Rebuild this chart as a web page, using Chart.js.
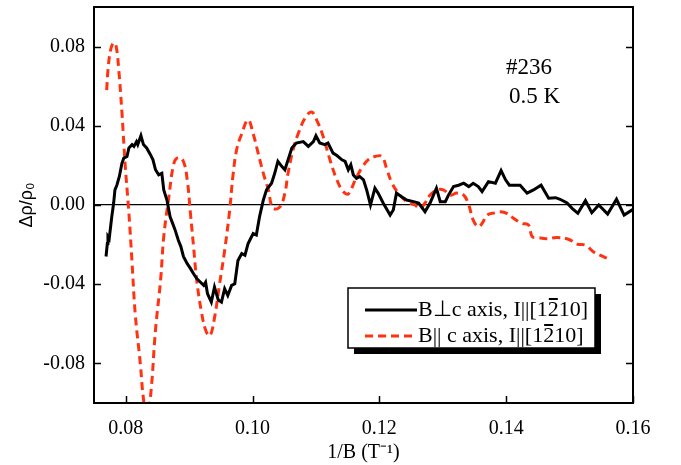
<!DOCTYPE html>
<html>
<head>
<meta charset="utf-8">
<script src="https://cdn.jsdelivr.net/npm/chart.js@4"></script>
<style>
  body { margin: 0; background: #fff; }
  #wrap { width: 681px; height: 465px; }
</style>
</head>
<body>
<div id="wrap"><canvas id="chart" width="681" height="465"></canvas></div>
<script>
// B perpendicular to c axis (black, solid)
const perpX = [0.0769, 0.0771, 0.0772, 0.0774, 0.0778, 0.0781, 0.0783, 0.0786, 0.0790, 0.0794,
  0.0797, 0.0802, 0.0805, 0.0810, 0.0813, 0.0817, 0.0819, 0.0824, 0.0828, 0.0833,
  0.0839, 0.0843, 0.0847, 0.0852, 0.0857, 0.0860, 0.0865, 0.0870, 0.0874, 0.0878,
  0.0883, 0.0887, 0.0891, 0.0897, 0.0902, 0.0907, 0.0912, 0.0918, 0.0923, 0.0926,
  0.0929, 0.0935, 0.0940, 0.0946, 0.0951, 0.0956, 0.0961, 0.0967, 0.0972, 0.0977,
  0.0983, 0.0988, 0.0993, 0.1001, 0.1006, 0.1011, 0.1017, 0.1022, 0.1030, 0.1035,
  0.1040, 0.1046, 0.1051, 0.1056, 0.1062, 0.1069, 0.1080, 0.1088, 0.1096, 0.1100,
  0.1106, 0.1114, 0.1119, 0.1127, 0.1133, 0.1141, 0.1146, 0.1151, 0.1155, 0.1159,
  0.1164, 0.1169, 0.1175, 0.1180, 0.1186, 0.1193, 0.1198, 0.1206, 0.1217, 0.1222,
  0.1227, 0.1235, 0.1243, 0.1254, 0.1262, 0.1272, 0.1280, 0.1290, 0.1296, 0.1304,
  0.1309, 0.1317, 0.1325, 0.1333, 0.1341, 0.1348, 0.1356, 0.1362, 0.1372, 0.1383,
  0.1392, 0.1399, 0.1405, 0.1422, 0.1433, 0.1443, 0.1455, 0.1467, 0.1478, 0.1485,
  0.1496, 0.1504, 0.1513, 0.1525, 0.1535, 0.1546, 0.1560, 0.1574, 0.1586, 0.1600];
const perpY = [-0.026, -0.0195, -0.016, -0.017, -0.006, 0.001, 0.0076, 0.010, 0.0144, 0.021,
  0.0237, 0.0245, 0.0288, 0.0305, 0.0296, 0.032, 0.0305, 0.035, 0.0305, 0.0288,
  0.0254, 0.0228, 0.0178, 0.0152, 0.016, 0.0076, 0.0025, -0.006, -0.0093, -0.0127,
  -0.0178, -0.021, -0.026, -0.0296, -0.032, -0.0347, -0.0372, -0.039, -0.0406, -0.039,
  -0.0448, -0.049, -0.0415, -0.048, -0.049, -0.0423, -0.0457, -0.0406, -0.0398, -0.028,
  -0.0245, -0.0254, -0.0195, -0.0144, -0.0152, -0.006, 0.0025, 0.0076, 0.011, 0.016,
  0.022, 0.0195, 0.0178, 0.0228, 0.0288, 0.0313, 0.032, 0.0296, 0.032, 0.035,
  0.0313, 0.0305, 0.0313, 0.0262, 0.025, 0.0228, 0.022, 0.0178, 0.0203, 0.0152,
  0.0135, 0.0144, 0.0127, 0.0076, 0.0, 0.0085, 0.006, 0.001, -0.0051, -0.0025,
  0.006, 0.0042, 0.0025, 0.0017, 0.001, -0.0034, 0.001, 0.0085, 0.0017, 0.0017,
  0.005, 0.0093, 0.010, 0.011, 0.0093, 0.011, 0.0093, 0.0068, 0.0118, 0.011,
  0.0174, 0.0127, 0.010, 0.010, 0.006, 0.0076, 0.010, 0.0034, 0.0037, 0.0029,
  0.001, -0.0017, -0.0042, 0.0022, -0.0039, 0.0, -0.0046, 0.0029, -0.0051, -0.0022];

// B parallel to c axis (red, dashed)
const parX = [0.0770, 0.0772, 0.0776, 0.0781, 0.0785, 0.0789, 0.0794, 0.0799, 0.0805, 0.0810,
  0.0815, 0.0823, 0.0828, 0.0833, 0.0839, 0.0847, 0.0855, 0.0860, 0.0868, 0.0876,
  0.0883, 0.0891, 0.0897, 0.0902, 0.0907, 0.0912, 0.0920, 0.0927, 0.0933, 0.0940,
  0.0948, 0.0956, 0.0964, 0.0969, 0.0975, 0.0983, 0.0993, 0.1001, 0.1009, 0.1017,
  0.1025, 0.1032, 0.1043, 0.1051, 0.1056, 0.1064, 0.1072, 0.1083, 0.1093, 0.1101,
  0.1111, 0.1122, 0.1133, 0.1143, 0.1151, 0.1162, 0.1172, 0.1183, 0.1193, 0.1204,
  0.1212, 0.1220, 0.1230, 0.1243, 0.1256, 0.1264, 0.1272, 0.1280, 0.1291, 0.1301,
  0.1312, 0.1322, 0.1333, 0.1341, 0.1348, 0.1356, 0.1362, 0.1370, 0.1383, 0.1391,
  0.1401, 0.1412, 0.1425, 0.1435, 0.1441, 0.1449, 0.1464, 0.1480, 0.1499, 0.1512,
  0.1525, 0.1538, 0.1554, 0.1564];
const parY = [0.058, 0.068, 0.078, 0.082, 0.080, 0.0685, 0.047, 0.021, -0.004, -0.029,
  -0.055, -0.080, -0.098, -0.106, -0.097, -0.063, -0.038, -0.016, 0.004, 0.021,
  0.024, 0.022, 0.0127, -0.004, -0.021, -0.038, -0.055, -0.064, -0.066, -0.057,
  -0.040, -0.023, -0.0025, 0.0144, 0.028, 0.036, 0.043, 0.036, 0.026, 0.016,
  0.0076, -0.0015, -0.001, 0.006, 0.016, 0.028, 0.036, 0.044, 0.047, 0.043,
  0.035, 0.023, 0.0127, 0.0068, 0.0056, 0.0127, 0.0186, 0.023, 0.0245, 0.0245,
  0.0178, 0.011, 0.006, 0.0017, 0.0, -0.0017, 0.001, 0.005, 0.0076, 0.0076,
  0.005, 0.006, 0.005, 0.0, -0.0076, -0.011, -0.0093, -0.0051, -0.0039, -0.0034,
  -0.0042, -0.0068, -0.0093, -0.010, -0.016, -0.0164, -0.017, -0.0164, -0.0174, -0.0198,
  -0.0203, -0.0237, -0.0262, -0.0276];

// the bar over the "2" is marked with a combining macron
const seriesLabels = ['B\u22A5c axis, I||[12\u030410]', 'B|| c axis, I||[12\u030410]'];
const noteLines = ['#236', '0.5 K'];

const xTicks = [0.08, 0.10, 0.12, 0.14, 0.16];
const yTicks = [-0.08, -0.04, 0.00, 0.04, 0.08];
const xRange = [0.075, 0.16];
const yRange = [-0.1, 0.1];

const toPoints = (xs, ys) => xs.map((x, i) => ({ x: x, y: ys[i] }));

// draws text, putting an overbar on any character followed by U+0304
function fillBarredText(ctx, text, x, y) {
    let cx = x;
    for (let i = 0; i < text.length; i++) {
        const ch = text[i];
        if (ch === '\u0304') continue;
        ctx.fillText(ch, cx, y);
        const w = ctx.measureText(ch).width;
        if (text[i + 1] === '\u0304') {
            ctx.fillRect(cx + 1, y - 12, w - 2, 2);
        }
        cx += w;
    }
}

// frame, inward ticks, notes and the boxed legend
const decorations = {
    id: 'decorations',
    afterDraw(chart) {
        const ctx = chart.ctx;
        const area = chart.chartArea;
        const xs = chart.scales.x;
        const ys = chart.scales.y;
        ctx.save();
        ctx.strokeStyle = '#000';
        ctx.lineWidth = 2;
        ctx.strokeRect(area.left, area.top, area.right - area.left, area.bottom - area.top);
        ctx.lineWidth = 1.5;
        ctx.beginPath();
        xs.ticks.forEach(t => {
            const px = Math.round(xs.getPixelForValue(t.value)) + 0.5;
            ctx.moveTo(px, area.bottom);
            ctx.lineTo(px, area.bottom - 7);
        });
        ys.ticks.forEach(t => {
            const py = Math.round(ys.getPixelForValue(t.value)) + 0.5;
            ctx.moveTo(area.left, py);
            ctx.lineTo(area.left + 7, py);
            ctx.moveTo(area.right, py);
            ctx.lineTo(area.right - 7, py);
        });
        ctx.stroke();

        ctx.fillStyle = '#000';
        ctx.font = '23px "Liberation Serif"';
        ctx.textBaseline = 'middle';
        ctx.textAlign = 'left';
        ctx.fillText(noteLines[0], 506, 68);
        ctx.fillText(noteLines[1], 509, 97);

        // legend box with shadow
        const bx = 348, by = 288, bw = 247, bh = 60;
        ctx.fillRect(bx + 6, by + 6, bw, bh);
        ctx.fillStyle = '#fff';
        ctx.fillRect(bx, by, bw, bh);
        ctx.lineWidth = 1.5;
        ctx.strokeRect(bx, by, bw, bh);
        chart.data.datasets.forEach((ds, i) => {
            const ly = by + 22 + i * 26;
            ctx.strokeStyle = ds.borderColor;
            ctx.lineWidth = ds.borderWidth;
            ctx.setLineDash(ds.borderDash || []);
            ctx.beginPath();
            ctx.moveTo(bx + 17, ly);
            ctx.lineTo(bx + 69, ly);
            ctx.stroke();
            ctx.setLineDash([]);
            ctx.fillStyle = '#000';
            ctx.font = '22px "Liberation Serif"';
            fillBarredText(ctx, ds.label, bx + 70, ly);
        });
        ctx.restore();
    }
};

const ctx = document.getElementById('chart').getContext('2d');
const chart = new Chart(ctx, {
    type: 'line',
    data: {
        datasets: [
            {
                label: seriesLabels[0],
                data: toPoints(perpX, perpY),
                borderColor: '#000000',
                borderWidth: 3,
                pointRadius: 0,
                tension: 0,
                fill: false
            },
            {
                label: seriesLabels[1],
                data: toPoints(parX, parY),
                borderColor: '#ff3312',
                borderWidth: 3,
                borderDash: [8, 5],
                pointRadius: 0,
                tension: 0.4,
                fill: false
            }
        ]
    },
    options: {
        responsive: false,
        devicePixelRatio: 1,
        animation: false,
        layout: { padding: { top: 7, right: 48, left: 0, bottom: 0 } },
        font: { family: 'Liberation Serif' },
        plugins: {
            legend: { display: false },
            tooltip: { enabled: false }
        },
        scales: {
            x: {
                type: 'linear',
                min: xRange[0],
                max: xRange[1],
                afterFit: scale => {
                    scale.height = 62;
                    scale.paddingLeft = 0;
                    scale.paddingRight = 0;
                },
                afterBuildTicks: scale => { scale.ticks = xTicks.map(v => ({ value: v })); },
                border: { display: false },
                grid: { display: false },
                ticks: {
                    autoSkip: false,
                    maxRotation: 0,
                    padding: 6,
                    color: '#000',
                    font: { family: 'Liberation Serif', size: 20 },
                    callback: v => v.toFixed(2)
                },
                title: {
                    display: true,
                    text: '1/B (T\u207B\u00B9)',
                    color: '#000',
                    padding: { top: 0, bottom: 0 },
                    font: { family: 'Liberation Serif', size: 20 }
                }
            },
            y: {
                type: 'linear',
                min: yRange[0],
                max: yRange[1],
                afterFit: scale => {
                    scale.width = 94;
                    scale.paddingTop = 0;
                    scale.paddingBottom = 0;
                },
                afterBuildTicks: scale => { scale.ticks = yTicks.map(v => ({ value: v })); },
                border: { display: false },
                grid: {
                    drawTicks: false,
                    lineWidth: 1.2,
                    color: c => (c.tick && Math.abs(c.tick.value) < 1e-9) ? '#000' : 'rgba(0,0,0,0)'
                },
                ticks: {
                    padding: 9,
                    color: '#000',
                    font: { family: 'Liberation Serif', size: 20 },
                    callback: v => (Math.abs(v) < 1e-9 ? 0 : v).toFixed(2)
                },
                title: {
                    display: true,
                    text: '\u0394\u03C1/\u03C1\u2080',
                    color: '#000',
                    padding: { top: 16, bottom: 0 },
                    font: { family: 'Liberation Sans', size: 18 }
                }
            }
        }
    },
    plugins: [decorations]
});
</script>
</body>
</html>
